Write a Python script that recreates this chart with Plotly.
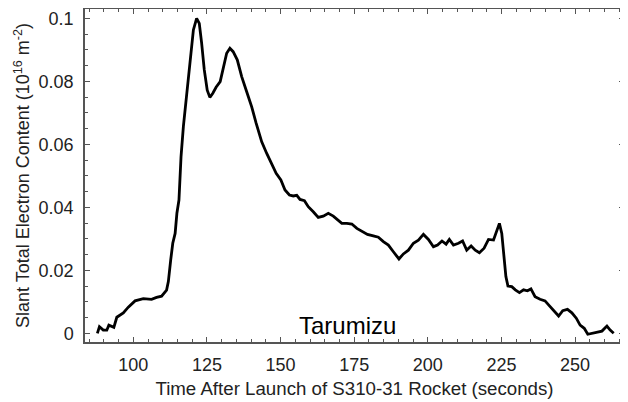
import plotly.graph_objects as go

# Time after launch (s)
time_s = [87.8, 88.5, 89.8, 91.0, 91.7, 92.7, 93.4, 94.4, 95.5, 96.6, 98.3, 100.6, 103.4, 106.2,
          107.9, 109.6, 111.3, 111.9, 112.7, 113.4, 114.2, 114.8, 115.5, 116.2, 117.0, 118.1,
          119.3, 120.4, 121.5, 122.4, 123.2, 124.1, 125.1, 126.0, 127.0, 128.1, 129.5, 130.6,
          131.7, 132.8, 133.9, 135.3, 136.8, 138.5, 140.2, 141.7, 143.6, 145.3, 147.0, 148.5,
          150.1, 151.5, 153.0, 154.3, 155.5, 156.6, 158.1, 159.4, 161.1, 162.8, 164.5, 166.2,
          167.9, 169.6, 170.8, 172.5, 174.2, 175.9, 177.6, 179.5, 181.5, 183.2, 184.9, 186.6,
          188.3, 190.2, 191.7, 193.4, 195.1, 196.8, 198.5, 200.2, 201.9, 203.3, 204.8, 206.2,
          207.3, 208.7, 210.4, 211.8, 213.2, 214.7, 216.1, 217.5, 219.1, 220.6, 222.3, 223.4,
          224.3, 225.1, 225.9, 226.5, 227.2, 228.5, 229.7, 231.1, 232.5, 233.8, 235.0, 236.4,
          238.1, 239.8, 241.3, 242.9, 244.4, 245.8, 247.4, 248.9, 250.4, 251.7, 253.1, 254.3,
          255.7, 257.2, 259.1, 260.8, 261.9, 263.1]

# Slant TEC (10^16 m^-2)
stec = [0.0000, 0.0021, 0.0010, 0.0010, 0.0026, 0.0023, 0.0019, 0.0051, 0.0058, 0.0065, 0.0083,
        0.0103, 0.0110, 0.0108, 0.0114, 0.0118, 0.0137, 0.0164, 0.0233, 0.0286, 0.0317, 0.0381,
        0.0423, 0.0560, 0.0656, 0.0762, 0.0868, 0.0963, 0.1000, 0.0984, 0.0921, 0.0836, 0.0772,
        0.0749, 0.0762, 0.0781, 0.0799, 0.0846, 0.0889, 0.0905, 0.0894, 0.0868, 0.0815, 0.0767,
        0.0719, 0.0667, 0.0608, 0.0571, 0.0540, 0.0508, 0.0487, 0.0455, 0.0439, 0.0436, 0.0438,
        0.0425, 0.0421, 0.0402, 0.0386, 0.0368, 0.0372, 0.0381, 0.0372, 0.0360, 0.0349, 0.0349,
        0.0347, 0.0333, 0.0323, 0.0314, 0.0309, 0.0305, 0.0291, 0.0280, 0.0259, 0.0236, 0.0252,
        0.0264, 0.0286, 0.0296, 0.0314, 0.0298, 0.0275, 0.0280, 0.0293, 0.0283, 0.0298, 0.0280,
        0.0286, 0.0293, 0.0264, 0.0277, 0.0264, 0.0256, 0.0270, 0.0298, 0.0296, 0.0323, 0.0349,
        0.0317, 0.0243, 0.0180, 0.0150, 0.0148, 0.0138, 0.0129, 0.0138, 0.0135, 0.0141, 0.0116,
        0.0108, 0.0103, 0.0087, 0.0069, 0.0055, 0.0072, 0.0076, 0.0065, 0.0048, 0.0026, 0.0016,
        -0.0003, 0.0000, 0.0005, 0.0007, 0.0023, 0.0010, 0.0000]

x_ticks = [100, 125, 150, 175, 200, 225, 250]
y_ticks = [0, 0.02, 0.04, 0.06, 0.08, 0.1]
y_tick_labels = ["0", "0.02", "0.04", "0.06", "0.08", "0.1"]

FONT = "Liberation Sans, Arial, sans-serif"
AXC = "#555555"

fig = go.Figure()
fig.add_trace(go.Scatter(x=time_s, y=stec, mode="lines",
                         line=dict(color="black", width=2.8), showlegend=False))

fig.add_annotation(x=172.6, y=0.0026, xref="x", yref="y", text="Tarumizu",
                   showarrow=False, font=dict(family=FONT, size=24, color="black"))

# The page body has an 8px margin, so the figure is sized/offset to land in the window.
fig.update_layout(
    width=620, height=394,
    margin=dict(l=77, r=4, t=1, b=60),
    paper_bgcolor="white", plot_bgcolor="white",
    font=dict(family=FONT, color="#222222"),
    xaxis=dict(range=[83.6, 266.6], tickvals=x_ticks, ticks="inside", ticklen=5,
               tickcolor=AXC, showline=True, linecolor=AXC, linewidth=1.5, mirror="ticks",
               showgrid=False, zeroline=False, tickfont=dict(size=18),
               ticklabelstandoff=6, automargin=False,
               minor=dict(ticks="inside", dtick=5, tick0=0, ticklen=3, tickcolor=AXC, showgrid=False),
               title=dict(text="Time After Launch of S310-31 Rocket (seconds)",
                          font=dict(size=18.7), standoff=8)),
    yaxis=dict(range=[-0.00276, 0.10295], tickvals=y_ticks, ticktext=y_tick_labels,
               ticks="inside", ticklen=5, tickcolor=AXC, showline=True, linecolor=AXC,
               linewidth=1.5, mirror="ticks", showgrid=False, zeroline=False,
               tickfont=dict(size=18), ticklabelstandoff=6, automargin=False,
               minor=dict(ticks="inside", dtick=0.005, tick0=0, ticklen=3, tickcolor=AXC, showgrid=False),
               title=dict(text="Slant Total Electron Content (10<sup>16</sup> m<sup>-2</sup>)",
                          font=dict(size=18), standoff=4)),
)

fig.write_html("out.html")
